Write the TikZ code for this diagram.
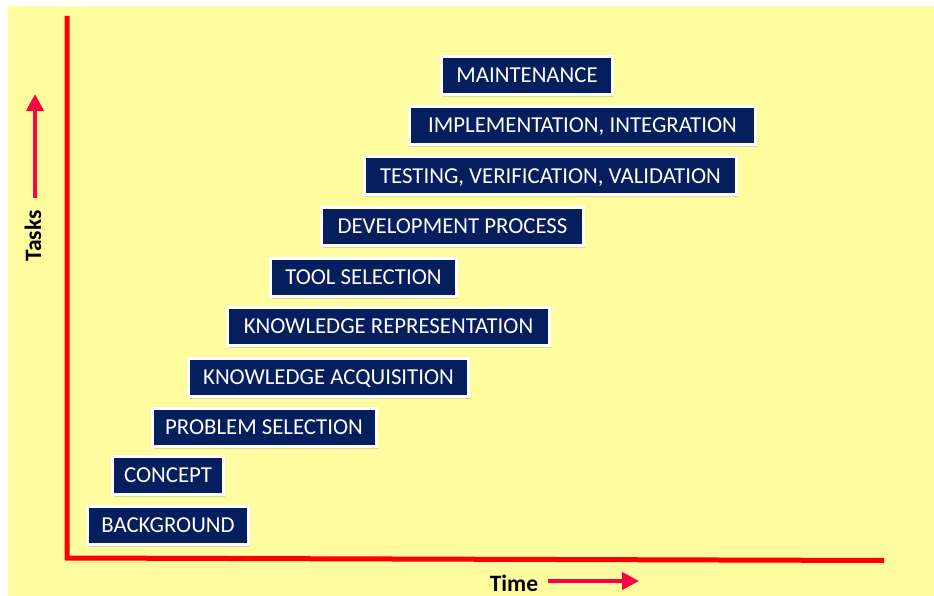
\documentclass[tikz,border=0pt]{standalone}
\usepackage{fontspec}
\setmainfont{Carlito}
\usetikzlibrary{arrows.meta,shadows}
\definecolor{bgyellow}{RGB}{255,252,160}
\definecolor{navy}{RGB}{4,30,94}
\definecolor{axisred}{RGB}{255,0,0}
\definecolor{arrowred}{RGB}{255,0,64}
\tikzset{
  task/.style={draw=white, line width=3pt, fill=navy, text=white,
    minimum height=38pt, inner sep=0pt, anchor=center,
    text height=14.5pt, text depth=0pt,
    font=\fontsize{22.8}{27}\selectfont,
    drop shadow={opacity=0.28, shadow xshift=1.5pt, shadow yshift=-2.5pt}},
  axis/.style={draw=axisred, line width=5pt, line join=miter},
  dirarrow/.style={draw=arrowred, line width=4.5pt, -{Triangle[width=17pt,length=17pt]}},
  axislabel/.style={font=\bfseries\fontsize{23.5}{28}\selectfont, text=black, inner sep=0pt}
}
\begin{document}
\begin{tikzpicture}[x=1pt,y=-1pt]
\useasboundingbox (0,0) rectangle (934,596);
\fill[white] (0,0) rectangle (934,596);
\fill[bgyellow] (8,6) rectangle (934,596);

% axes
\coordinate (ytop) at (67,16);
\coordinate (origin) at (67,558);
\coordinate (xend) at (884,560.5);
\draw[axis] (ytop) -- (origin) -- (xend);

% axis labels
\node[axislabel, rotate=90] (tasks) at (33,236) {Tasks};
\coordinate (tasksA) at (35,198);
\coordinate (tasksB) at (35,94);
\draw[dirarrow] (tasksA) -- (tasksB);

\node[axislabel] (time) at (514,583) {Time};
\coordinate (timeA) at (548,581);
\coordinate (timeB) at (639,581);
\draw[dirarrow] (timeA) -- (timeB);

% task boxes
\node[task, minimum width=161pt] (background) at (168,525.5) {BACKGROUND};
\node[task, minimum width=111pt] (concept) at (168,475.5) {CONCEPT};
\node[task, minimum width=224pt] (problem) at (264,427.5) {PROBLEM SELECTION};
\node[task, minimum width=280pt] (acq) at (328.5,377) {KNOWLEDGE ACQUISITION};
\node[task, minimum width=322pt] (rep) at (388.5,326) {KNOWLEDGE REPRESENTATION};
\node[task, minimum width=186pt] (tool) at (363.5,277.5) {TOOL SELECTION};
\node[task, minimum width=262pt] (dev) at (452.5,226.5) {DEVELOPMENT PROCESS};
\node[task, minimum width=372pt] (test) at (550.5,176) {TESTING, VERIFICATION, VALIDATION};
\node[task, minimum width=346pt] (impl) at (582.5,125.5) {IMPLEMENTATION, INTEGRATION};
\node[task, minimum width=171pt] (maint) at (527,75.5) {MAINTENANCE};
\end{tikzpicture}
\end{document}
